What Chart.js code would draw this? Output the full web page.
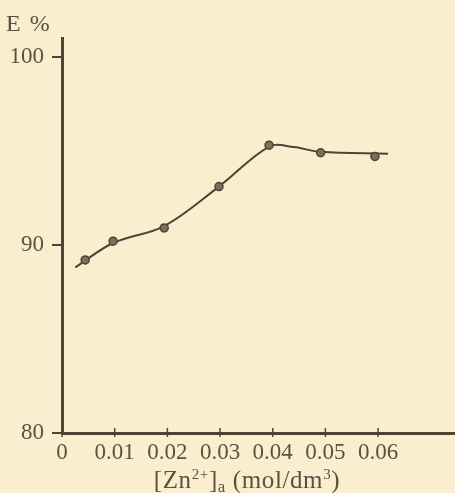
<!DOCTYPE html>
<html>
<head>
<meta charset="utf-8">
<script src="https://cdn.jsdelivr.net/npm/chart.js@4/dist/chart.umd.min.js"></script>
<style>
  html, body { margin: 0; padding: 0; background: #faeecf; }
  #wrap { position: relative; width: 455px; height: 493px; background: #faeecf; overflow: hidden; }
  #c { position: absolute; left: 0; top: 0; }
  .lbl { position: absolute; font-family: "Liberation Serif", "Times New Roman", serif; color: #5b5142; white-space: nowrap; line-height: 1; }
  #ylab { left: 6px; top: 11px; font-size: 24px; letter-spacing: 1.5px; }
  #xlab { left: 0; width: 494px; text-align: center; top: 467px; font-size: 25px; letter-spacing: 0.6px; }
  #xlab sup { font-size: 15px; vertical-align: 9px; line-height: 1; }
  #xlab sub { font-size: 17px; vertical-align: -4px; line-height: 1; }
</style>
</head>
<body>
<div id="wrap">
  <canvas id="c" width="455" height="493"></canvas>
  <div class="lbl" id="ylab">E %</div>
  <div class="lbl" id="xlab">[Zn<sup>2+</sup>]<sub>a</sub> (mol/dm<sup>3</sup>)</div>
</div>
<script>
// Zinc concentration in the aqueous phase (mol/dm3) and extraction E (%)
const concMeasured = [0.0044, 0.0097, 0.0194, 0.0298, 0.0393, 0.0491, 0.0594];
const extMeasured  = [89.2, 90.2, 90.9, 93.1, 95.3, 94.9, 94.7];

// Smoothed trend curve drawn through the measurements
const concCurve = [0.0025, 0.0097, 0.0194, 0.0298, 0.0395, 0.0440, 0.0491, 0.0619];
const extCurve  = [88.8, 90.1, 91.0, 93.1, 95.25, 95.2, 94.95, 94.85];

// Axis tick labels
const xTicks = [0, 0.01, 0.02, 0.03, 0.04, 0.05, 0.06];
const yTicks = [80, 90, 100];

const ink = '#4e4434';
const textInk = '#5b5142';
const serif = '"Liberation Serif", "Times New Roman", serif';

const toPts = (xs, ys) => xs.map((x, i) => ({ x: x, y: ys[i] }));

// Small tick marks crossing the x axis line
const innerXTicks = {
  id: 'innerXTicks',
  afterDraw(chart) {
    const sx = chart.scales.x;
    const ctx = chart.ctx;
    const y0 = chart.chartArea.bottom;
    ctx.save();
    ctx.strokeStyle = ink;
    ctx.lineWidth = 1.5;
    xTicks.forEach(v => {
      const px = sx.getPixelForValue(v);
      ctx.beginPath();
      ctx.moveTo(px, y0 + 4);
      ctx.lineTo(px, y0 - 5);
      ctx.stroke();
    });
    ctx.restore();
  }
};

new Chart(document.getElementById('c'), {
  type: 'scatter',
  data: {
    datasets: [
      {
        label: 'curve',
        data: toPts(concCurve, extCurve),
        showLine: true,
        borderColor: ink,
        borderWidth: 2,
        pointRadius: 0,
        tension: 0.35,
        order: 2
      },
      {
        label: 'E',
        data: toPts(concMeasured, extMeasured),
        showLine: false,
        pointRadius: 4,
        pointBackgroundColor: '#7a705c',
        pointBorderColor: ink,
        pointBorderWidth: 1.5,
        order: 1
      }
    ]
  },
  options: {
    responsive: false,
    animation: false,
    layout: { autoPadding: false, padding: { top: 38, right: 0, left: 0, bottom: 0 } },
    plugins: { legend: { display: false }, tooltip: { enabled: false } },
    scales: {
      x: {
        type: 'linear',
        min: 0,
        max: 0.0746,
        afterBuildTicks(scale) { scale.ticks = xTicks.map(v => ({ value: v })); },
        afterFit(scale) { scale.height = 60; scale.paddingRight = 0; scale.paddingLeft = 0; },
        grid: { display: false, drawTicks: false },
        border: { display: true, color: ink, width: 3 },
        ticks: {
          color: textInk,
          padding: 6,
          maxRotation: 0,
          autoSkip: false,
          font: { family: serif, size: 23 },
          callback: v => (v === 0 ? '0' : v.toFixed(2))
        }
      },
      y: {
        type: 'linear',
        min: 80,
        max: 101,
        afterBuildTicks(scale) { scale.ticks = yTicks.map(v => ({ value: v })); },
        afterFit(scale) { scale.width = 62; },
        grid: { drawOnChartArea: false, drawTicks: true, tickLength: 10, color: ink, lineWidth: 2 },
        border: { display: true, color: ink, width: 3 },
        ticks: {
          color: textInk,
          padding: 8,
          autoSkip: false,
          font: { family: serif, size: 23 }
        }
      }
    }
  },
  plugins: [innerXTicks]
});
</script>
</body>
</html>
